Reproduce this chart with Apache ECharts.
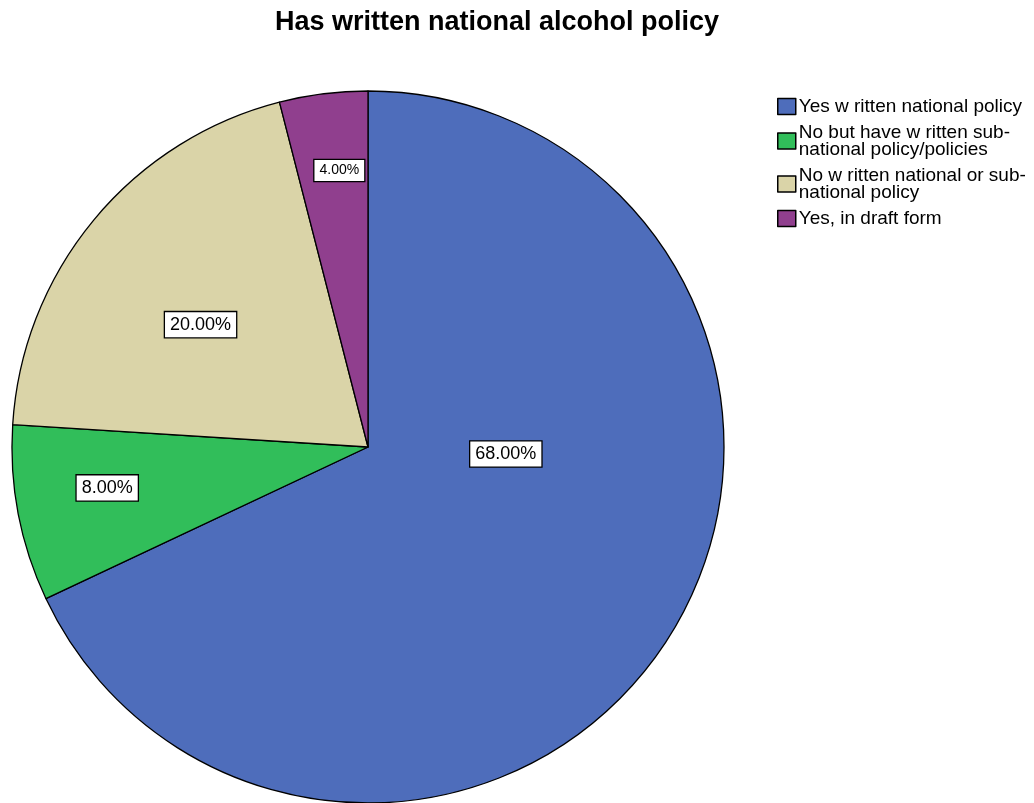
<!DOCTYPE html>
<html>
<head>
<meta charset="utf-8">
<script src="https://cdn.jsdelivr.net/npm/echarts@6/dist/echarts.min.js"></script>
<style>
  html, body { margin: 0; padding: 0; background: #fff; }
  #chart { width: 1034px; height: 803px; }
</style>
</head>
<body>
<div id="chart"></div>
<script>
// Data
var categories = [
    'Yes w ritten national policy',
    'No but have w ritten sub-\nnational policy/policies',
    'No w ritten national or sub-\nnational policy',
    'Yes, in draft form'
];
var percents = [68, 8, 20, 4];
var colors = ['#4e6dbb', '#31be5a', '#dad4a8', '#903f8e'];

// label nudges from the default inside spot (px)
var labelShift = [[-15, -90], [-83, 7], [-28, -7], [-6, -97]];

var chart = echarts.init(document.getElementById('chart'));

var data = [];
for (var i = 0; i < categories.length; i++) {
    data.push({
        name: categories[i],
        value: percents[i],
        itemStyle: { color: colors[i] },
        label: { fontSize: i === 3 ? 14 : 18 }
    });
}

chart.setOption({
    animation: false,
    textStyle: {
        fontFamily: '"Liberation Sans", Arial, sans-serif'
    },
    title: {
        text: 'Has written national alcohol policy',
        left: 497,
        textAlign: 'center',
        top: 9,
        padding: 0,
        textStyle: {
            fontSize: 27,
            fontWeight: 'bold',
            color: '#000',
            fontFamily: '"Liberation Sans", Arial, sans-serif'
        }
    },
    legend: {
        orient: 'vertical',
        left: 777,
        top: 97,
        padding: 0,
        itemWidth: 18,
        itemHeight: 16,
        itemGap: 7,
        icon: 'rect',
        selectedMode: false,
        itemStyle: {
            borderColor: '#000',
            borderWidth: 1.5
        },
        textStyle: {
            fontSize: 19,
            lineHeight: 17,
            color: '#000',
            padding: [0, 0, 0, -2]
        },
        data: categories
    },
    series: [{
        type: 'pie',
        center: [368, 447],
        radius: 356,
        startAngle: 90,
        clockwise: true,
        silent: true,
        emphasis: { disabled: true },
        itemStyle: {
            borderColor: '#000',
            borderWidth: 1.3
        },
        label: {
            position: 'inside',
            color: '#000',
            backgroundColor: '#fff',
            borderColor: '#000',
            borderWidth: 1.3,
            padding: [4, 5, 3, 5],
            formatter: function (p) {
                return p.value.toFixed(2) + '%';
            }
        },
        labelLine: { show: false },
        labelLayout: function (params) {
            var s = labelShift[params.dataIndex];
            return { dx: s[0], dy: s[1] };
        },
        data: data
    }]
});
</script>
</body>
</html>
